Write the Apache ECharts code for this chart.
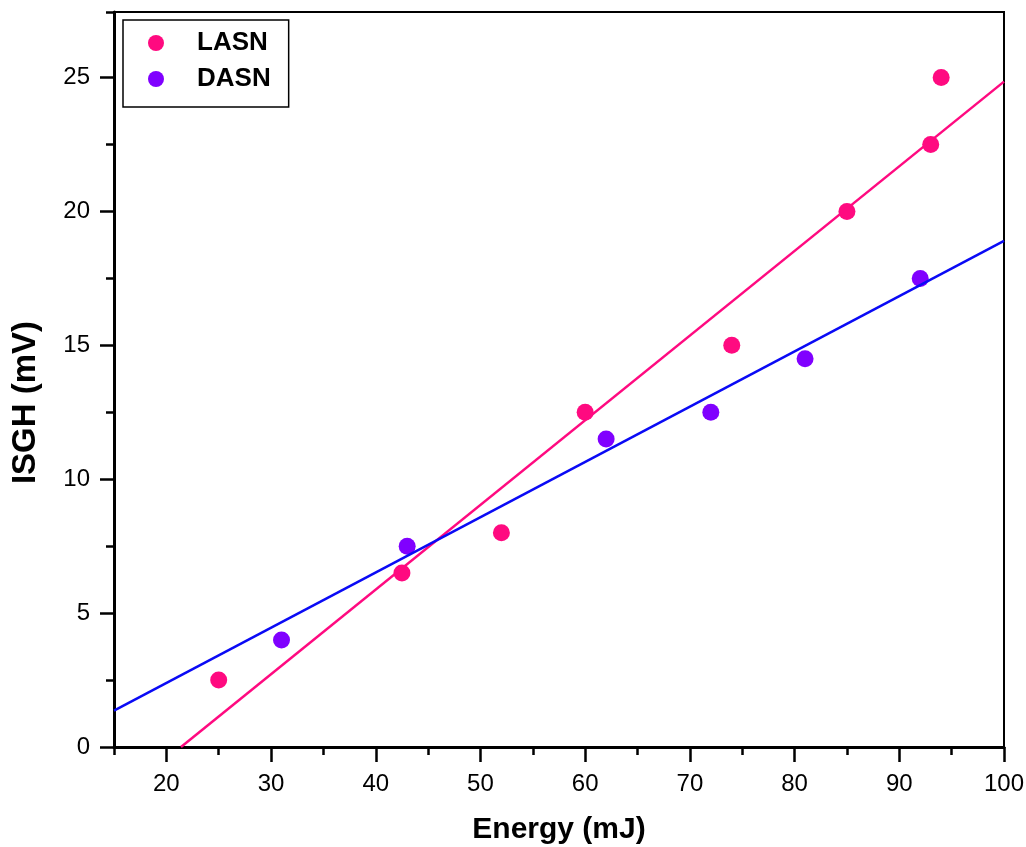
<!DOCTYPE html>
<html>
<head>
<meta charset="utf-8">
<script src="https://cdn.jsdelivr.net/npm/echarts@6/dist/echarts.min.js"></script>
<style>
  html, body { margin: 0; padding: 0; background: #fff; }
  #chart { width: 1026px; height: 847px; }
</style>
</head>
<body>
<div id="chart"></div>
<script>
// Measured points: pulse energy (mJ) vs. ISGH signal (mV)
const lasnEnergy = [25, 42.5, 52, 60, 74, 85, 93, 94];
const lasnSignal = [2.5, 6.5, 8, 12.5, 15, 20, 22.5, 25];
const dasnEnergy = [31, 43, 62, 72, 81, 92];
const dasnSignal = [4, 7.5, 11.5, 12.5, 14.5, 17.5];

// Linear fit lines, given by their end points [energy, signal]
const lasnFit = [[21.4, 0], [100, 24.85]];
const dasnFit = [[15, 1.36], [100, 18.9]];

// Axis ticks
const xMajorTicks = [20, 30, 40, 50, 60, 70, 80, 90, 100];
const xMinorTicks = [15, 25, 35, 45, 55, 65, 75, 85, 95];
const yMajorTicks = [0, 5, 10, 15, 20, 25];
const yMinorTicks = [2.5, 7.5, 12.5, 17.5, 22.5, 27.45];

const X_MIN = 15, X_MAX = 100, Y_MIN = 0, Y_MAX = 27.45;

const PINK = '#FF0A80';
const VIOLET = '#8000FF';
const BLUE = '#0A0AF5';
const FONT = 'Liberation Sans, Arial, Helvetica, sans-serif';

const zip = (xs, ys) => xs.map((x, i) => [x, ys[i]]);

const chart = echarts.init(document.getElementById('chart'), null, { renderer: 'canvas' });

const majorX = {
  type: 'value', min: X_MIN, max: X_MAX, position: 'bottom',
  name: 'Energy (mJ)', nameLocation: 'middle', nameGap: 68,
  nameTextStyle: { fontFamily: FONT, fontSize: 30, fontWeight: 'bold', color: '#000' },
  axisLine: { show: true, onZero: false, lineStyle: { color: '#000', width: 3 } },
  axisTick: { show: true, inside: false, length: 15, customValues: xMajorTicks,
              lineStyle: { color: '#000', width: 2.5 } },
  axisLabel: { show: true, customValues: xMajorTicks, margin: 25,
               fontFamily: FONT, fontSize: 24, color: '#000' },
  splitLine: { show: false }
};
const minorX = {
  type: 'value', min: X_MIN, max: X_MAX, position: 'bottom',
  axisLine: { show: false, onZero: false },
  axisTick: { show: true, inside: false, length: 8, customValues: xMinorTicks,
              lineStyle: { color: '#000', width: 2.5 } },
  axisLabel: { show: false },
  splitLine: { show: false }
};
const majorY = {
  type: 'value', min: Y_MIN, max: Y_MAX, position: 'left',
  name: 'ISGH (mV)', nameLocation: 'middle', nameGap: 72, nameRotate: 90,
  nameTextStyle: { fontFamily: FONT, fontSize: 33, fontWeight: 'bold', color: '#000',
                   padding: [0, 46, 0, 0] },
  axisLine: { show: true, onZero: false, lineStyle: { color: '#000', width: 3 } },
  axisTick: { show: true, inside: false, length: 14, customValues: yMajorTicks,
              lineStyle: { color: '#000', width: 2.5 } },
  axisLabel: { show: true, customValues: yMajorTicks, margin: 24,
               fontFamily: FONT, fontSize: 24, color: '#000' },
  splitLine: { show: false }
};
const minorY = {
  type: 'value', min: Y_MIN, max: Y_MAX, position: 'left',
  axisLine: { show: false, onZero: false },
  axisTick: { show: true, inside: false, length: 8, customValues: yMinorTicks,
              lineStyle: { color: '#000', width: 2.5 } },
  axisLabel: { show: false },
  splitLine: { show: false }
};

chart.setOption({
  animation: false,
  backgroundColor: '#fff',
  grid: {
    left: 114, right: 22, top: 12, bottom: 100,
    outerBoundsMode: 'none',
    show: true, borderColor: '#000', borderWidth: 2, backgroundColor: 'transparent'
  },
  legend: {
    data: ['LASN', 'DASN'],
    orient: 'vertical',
    left: 123, top: 20,
    padding: [10, 18, 15, 25],
    itemGap: 10,
    itemWidth: 16, itemHeight: 16,
    icon: 'circle',
    borderColor: '#000', borderWidth: 1.5,
    formatter: name => '{sp|}{b|' + name + '}',
    textStyle: {
      rich: {
        sp: { width: 28 },
        b: { fontFamily: FONT, fontSize: 26, fontWeight: 'bold', color: '#000', lineHeight: 30 }
      }
    }
  },
  xAxis: [majorX, minorX],
  yAxis: [majorY, minorY],
  series: [
    {
      name: 'LASN', type: 'scatter', xAxisIndex: 0, yAxisIndex: 0,
      symbol: 'circle', symbolSize: 17,
      itemStyle: { color: PINK, opacity: 1 },
      data: zip(lasnEnergy, lasnSignal), z: 3
    },
    {
      name: 'DASN', type: 'scatter', xAxisIndex: 0, yAxisIndex: 0,
      symbol: 'circle', symbolSize: 17,
      itemStyle: { color: VIOLET, opacity: 1 },
      data: zip(dasnEnergy, dasnSignal), z: 3
    },
    {
      name: 'LASN fit', type: 'line', xAxisIndex: 0, yAxisIndex: 0,
      showSymbol: false, symbol: 'none', clip: true,
      lineStyle: { color: PINK, width: 2.5 },
      data: lasnFit, z: 4, silent: true
    },
    {
      name: 'DASN fit', type: 'line', xAxisIndex: 0, yAxisIndex: 0,
      showSymbol: false, symbol: 'none', clip: true,
      lineStyle: { color: BLUE, width: 2.5 },
      data: dasnFit, z: 4, silent: true
    }
  ]
});
</script>
</body>
</html>
